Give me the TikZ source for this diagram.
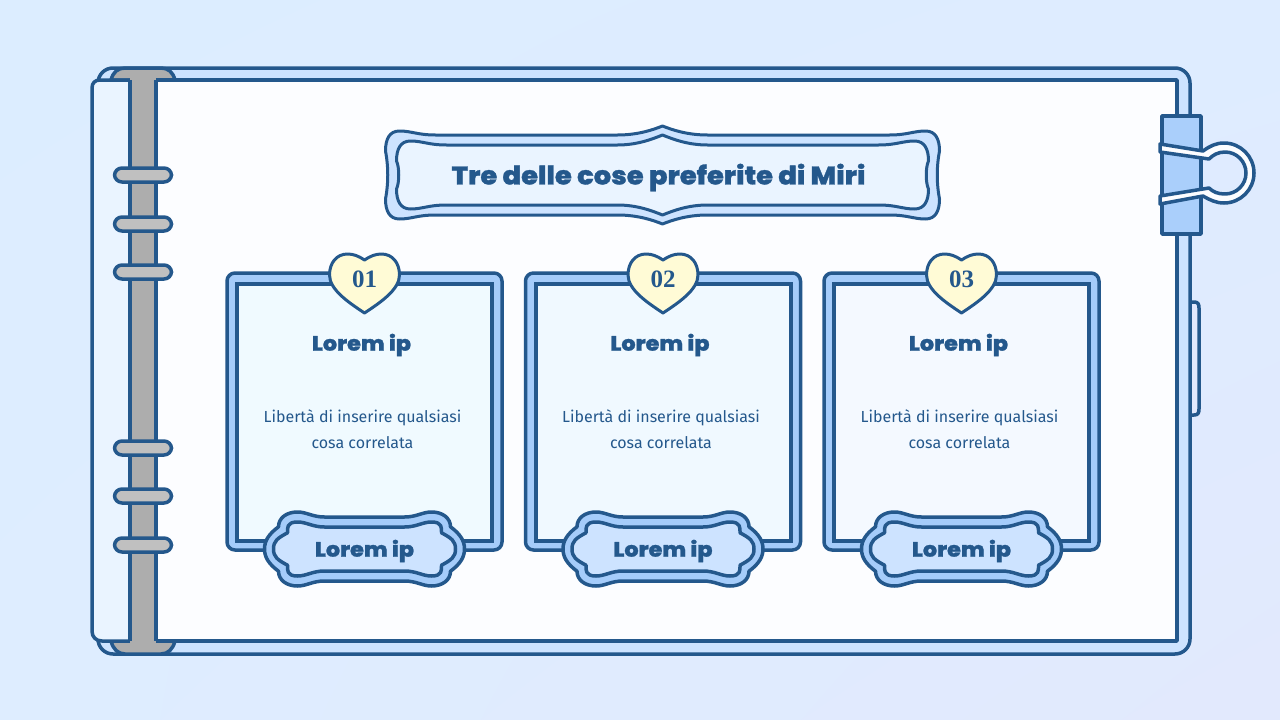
\documentclass[tikz,border=0pt]{standalone}
\usepackage{fontspec}
\usetikzlibrary{positioning, shadings}
\setmainfont{Fira Sans}
\newfontfamily\headfont[FakeStretch=1.08, FakeBold=1.2]{Poppins ExtraBold}
\newfontfamily\numfont{Liberation Serif}
\definecolor{inkblue}{RGB}{36, 88, 140}
\definecolor{bandblue}{RGB}{165, 204, 250}
\definecolor{sheetblue}{RGB}{205, 227, 255}
\definecolor{coverblue}{RGB}{234, 244, 255}
\definecolor{clipblue}{RGB}{170, 207, 251}
\definecolor{heartyellow}{RGB}{255, 251, 214}
\definecolor{spinegrey}{RGB}{173, 173, 173}
\definecolor{ringgrey}{RGB}{192, 192, 192}
\definecolor{pagewhite}{RGB}{252, 253, 255}
\definecolor{skyul}{RGB}{220, 237, 255}
\definecolor{skyur}{RGB}{222, 236, 255}
\definecolor{skyll}{RGB}{222, 237, 255}
\definecolor{skylr}{RGB}{226, 233, 253}
\tikzset{
  ink/.style={draw=inkblue, line width=3.5pt, line join=round},
  ringbar/.style={ink, fill=ringgrey, rounded corners=7.5pt, minimum width=57pt, minimum height=14pt, inner sep=0pt},
  cardouter/.style={ink, fill=bandblue, rounded corners=8pt, minimum width=275pt, minimum height=277pt, inner sep=0pt},
  cardinner/.style={draw=inkblue, line width=4pt, minimum width=255pt, minimum height=257pt, inner sep=0pt},
  headtext/.style={font=\headfont\fontsize{20.7}{24}\selectfont, text=inkblue, inner sep=0pt},
  bodytext/.style={font=\fontsize{16}{26}\selectfont, text=inkblue, align=center, inner sep=0pt},
  pics/titleframe/.style n args={3}{code={
    \path[pic actions] (-#1,-#2+16) .. controls (-#1,-#2+4) and (-#1+4,-#2-4) .. (-#1+14,-#2-4)
      .. controls (-#1+26,-#2-4) and (-#1+32,-#2) .. (-#1+50,-#2) -- (-45,-#2)
      .. controls (-25,-#2) and (-10,-#3+4) .. (0,-#3) .. controls (10,-#3+4) and (25,-#2) .. (45,-#2)
      -- (#1-50,-#2) .. controls (#1-32,-#2) and (#1-26,-#2-4) .. (#1-14,-#2-4)
      .. controls (#1-4,-#2-4) and (#1,-#2+4) .. (#1,-#2+16)
      .. controls (#1-3,-8) and (#1-3,8) .. (#1,#2-16)
      .. controls (#1,#2-4) and (#1-4,#2+4) .. (#1-14,#2+4)
      .. controls (#1-26,#2+4) and (#1-32,#2) .. (#1-50,#2) -- (45,#2)
      .. controls (25,#2) and (10,#3-4) .. (0,#3) .. controls (-10,#3-4) and (-25,#2) .. (-45,#2)
      -- (-#1+50,#2) .. controls (-#1+32,#2) and (-#1+26,#2+4) .. (-#1+14,#2+4)
      .. controls (-#1+4,#2+4) and (-#1,#2-4) .. (-#1,#2-16)
      .. controls (-#1+3,8) and (-#1+3,-8) .. cycle;
  }},
  pics/labelframe/.style n args={3}{code={
    \path[pic actions] (-#1,0) .. controls (-#1,-8) and (-#1+4,-#2*0.4) .. (-#1+14,-#2*0.6)
      .. controls (-#1+14,-#2+6) and (-78,-#2) .. (-67,-#2)
      .. controls (-58,-#2) and (-52,-#3) .. (-40,-#3) -- (40,-#3)
      .. controls (52,-#3) and (58,-#2) .. (67,-#2)
      .. controls (78,-#2) and (#1-14,-#2+6) .. (#1-14,-#2*0.6)
      .. controls (#1-4,-#2*0.4) and (#1,-8) .. (#1,0)
      .. controls (#1,8) and (#1-4,#2*0.4) .. (#1-14,#2*0.6)
      .. controls (#1-14,#2-6) and (78,#2) .. (67,#2)
      .. controls (58,#2) and (52,#3) .. (40,#3) -- (-40,#3)
      .. controls (-52,#3) and (-58,#2) .. (-67,#2)
      .. controls (-78,#2) and (-#1+14,#2-6) .. (-#1+14,#2*0.6)
      .. controls (-#1+4,#2*0.4) and (-#1,8) .. cycle;
  }},
  pics/heartshape/.style={code={
    \path[pic actions] (0,0) .. controls (-6,-4) and (-11,-6) .. (-17,-6)
      .. controls (-28,-6) and (-35,3) .. (-35,15) .. controls (-35,30) and (-15,43) .. (0,53)
      .. controls (15,43) and (35,30) .. (35,15) .. controls (35,3) and (28,-6) .. (17,-6)
      .. controls (11,-6) and (6,-4) .. cycle;
  }}
}

\begin{document}
\begin{tikzpicture}[x=1pt, y=-1pt]
  \useasboundingbox (0,0) rectangle (1280,720);
  \shade[upper left=skyul, upper right=skyur, lower left=skyll, lower right=skylr] (0,0) rectangle (1280,720);

  % notebook
  \draw[ink, fill=skylr] (1188,302) -- (1194,302) .. controls (1198,302) and (1199,304) .. (1199,308)
    -- (1199,409) .. controls (1199,413) and (1198,415) .. (1194,415) -- (1188,415);
  \draw[ink, fill=sheetblue, rounded corners=15pt] (98,68) rectangle (1190,654);
  \draw[ink, fill=spinegrey] (111,80) .. controls (113,72) and (118,68) .. (125,68) -- (161,68)
    .. controls (168,68) and (173,72) .. (175,80) -- cycle;
  \draw[ink, fill=spinegrey] (111,641) .. controls (113,649) and (118,654) .. (125,654) -- (161,654)
    .. controls (168,654) and (173,649) .. (175,641) -- cycle;
  \draw[ink, fill=coverblue] (130,80) -- (100,80) .. controls (95,80) and (92,83) .. (92,88)
    -- (92,631) .. controls (92,637) and (96,641) .. (102,641) -- (130,641) -- cycle;
  \draw[ink, fill=pagewhite] (156,80) rectangle (1177,641);
  \fill[spinegrey] (130,70) rectangle (156,652);
  \draw[ink] (130,80) -- (130,641) (156,80) -- (156,641);
  \foreach \ringy [count=\ringi] in {175,224,272,448,496,545}
    \node[ringbar] (ring\ringi) at (143,\ringy) {};

  % clip
  \draw[ink, fill=clipblue] (1162,116) rectangle (1201,234);
  \draw[ink, fill=pagewhite] (1160,144) -- (1203,151)
    .. controls (1210,146) and (1216,143) .. (1224,143) arc[start angle=-90, end angle=90, radius=30]
    .. controls (1216,203) and (1210,200) .. (1203,196) -- (1160,204) -- (1160,196) -- (1209,188)
    .. controls (1213,192) and (1218,194) .. (1225,194) arc[start angle=90, end angle=-90, radius=21]
    .. controls (1218,152) and (1213,155) .. (1209,159) -- (1160,152) -- cycle;

  % title
  \pic[ink, line width=3pt, fill=sheetblue] at (662.5,175) {titleframe={277}{40}{49}};
  \pic[ink, line width=3pt, fill=coverblue] at (662.5,175) {titleframe={266}{30}{40}};
  \node[headtext, font=\headfont\fontsize{25.4}{28}\selectfont] (title) at (658.5,177.5) {Tre delle cose preferite di Miri};

  % cards
  \foreach \cardx/\cardi/\cardfill in {364.5/1/240 250 255, 663/2/240 249 255, 961.5/3/244 249 255} {
    \definecolor{cardtint}{RGB}{\cardfill}
    \node[cardouter] (card\cardi) at (\cardx,411.5) {};
    \node[cardinner, fill=cardtint] (panel\cardi) at (\cardx,412) {};
    \pic[ink, line width=3pt, fill=heartyellow] at (\cardx,260) {heartshape};
    \node[font=\numfont\bfseries\fontsize{25}{28}\selectfont, text=inkblue, inner sep=0pt] (num\cardi) at (\cardx,279) {0\cardi};
    \node[headtext] (head\cardi) at (\cardx-3,345) {Lorem ip};
    \node[bodytext] (body\cardi) at (\cardx-2,429) {Libertà di inserire qualsiasi\\cosa correlata};
    \pic[ink, fill=bandblue] at (\cardx,549) {labelframe={100}{37}{32}};
    \pic[ink, fill=sheetblue] at (\cardx,549) {labelframe={91}{27}{22}};
    \node[headtext] (tag\cardi) at (\cardx,551) {Lorem ip};
  }
\end{tikzpicture}
\end{document}
